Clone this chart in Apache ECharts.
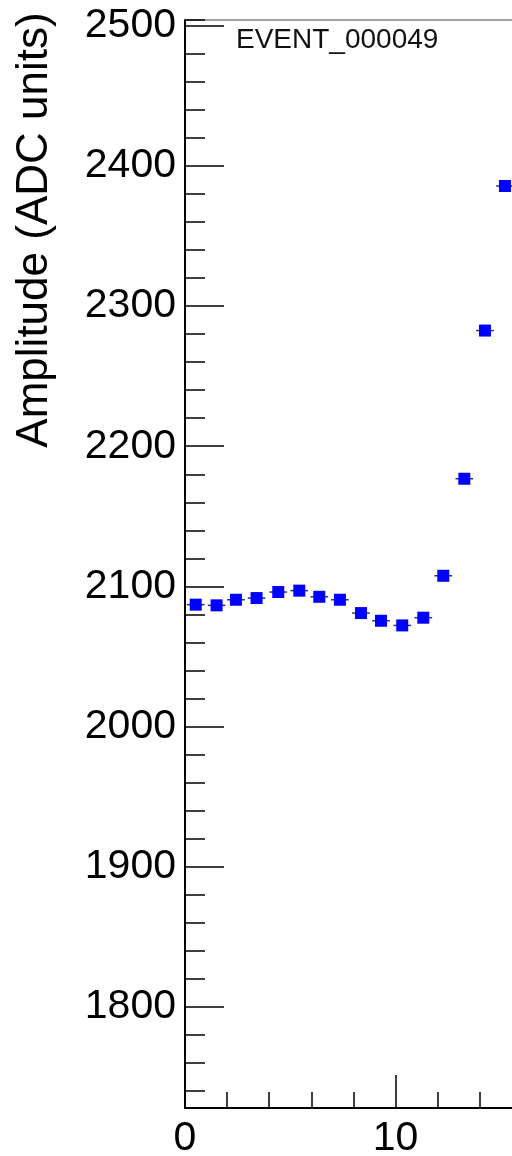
<!DOCTYPE html>
<html>
<head>
<meta charset="utf-8">
<script src="https://cdn.jsdelivr.net/npm/echarts@6/dist/echarts.min.js"></script>
<style>
  html, body { margin: 0; padding: 0; background: #fff; }
  #chart { width: 512px; height: 1156px; }
</style>
</head>
<body>
<div id="chart"></div>
<script>
// sample positions and amplitudes
const sampleX = [0.51, 1.5, 2.42, 3.4, 4.43, 5.43, 6.38, 7.36, 8.36, 9.31, 10.32, 11.32, 12.27, 13.27, 14.25, 15.2];
const amplitude = [2087, 2086.5, 2090.5, 2091.7, 2096, 2097, 2092.6, 2090.5, 2081, 2075.5, 2072.2, 2077.7, 2107.6, 2176.8, 2282.5, 2385.6];
const xErr = 0.42;
const eventName = 'EVENT_000049';
const yTitle = 'Amplitude (ADC units)';
const yRange = [1728, 2504];
const xRange = [0, 20];

const FONT = '"Liberation Sans", Arial, Helvetica, sans-serif';
const points = sampleX.map((x, i) => [x, amplitude[i]]);
const plain = v => String(v);

const chart = echarts.init(document.getElementById('chart'));

const option = {
  animation: false,
  backgroundColor: '#fff',
  title: {
    text: eventName,
    left: 231,
    top: 21,
    textStyle: { fontFamily: FONT, fontWeight: 'normal', fontSize: 28, color: '#111' }
  },
  graphic: [
    {
      type: 'text',
      x: 35, y: 230,
      rotation: Math.PI / 2,
      style: {
        text: yTitle, fontFamily: FONT, fontSize: 44, fill: '#000',
        align: 'center', verticalAlign: 'middle'
      }
    }
  ],
  grid: {
    left: 185, top: 20, bottom: 48, right: -94,
    outerBoundsMode: 'none',
    show: true, borderColor: '#444', borderWidth: 1, backgroundColor: 'transparent'
  },
  xAxis: [
    {
      type: 'value', min: xRange[0], max: xRange[1], interval: 10, position: 'bottom',
      axisLine: { show: true, onZero: false, lineStyle: { color: '#000', width: 2 } },
      axisTick: { show: true, inside: true, length: 33, lineStyle: { color: '#000', width: 1.5 } },
      axisLabel: { fontFamily: FONT, fontSize: 41, color: '#000', margin: 10, formatter: plain },
      splitLine: { show: false }
    },
    {
      type: 'value', min: xRange[0], max: xRange[1], interval: 2, position: 'bottom',
      axisLine: { show: false },
      axisTick: { show: true, inside: true, length: 16, lineStyle: { color: '#000', width: 1.5 } },
      axisLabel: { show: false },
      splitLine: { show: false }
    }
  ],
  yAxis: [
    {
      type: 'value', min: yRange[0], max: yRange[1], splitNumber: 8, position: 'left',
      axisLine: { show: true, onZero: false, lineStyle: { color: '#000', width: 2 } },
      axisTick: { show: true, inside: true, length: 39, lineStyle: { color: '#000', width: 1.5 } },
      axisLabel: {
        fontFamily: FONT, fontSize: 41, color: '#000', margin: 9, formatter: plain,
        showMinLabel: false, showMaxLabel: false
      },
      splitLine: { show: false }
    },
    {
      type: 'value', min: yRange[0], max: yRange[1], splitNumber: 39, position: 'left',
      axisLine: { show: false },
      axisTick: { show: true, inside: true, length: 20, lineStyle: { color: '#000', width: 1.5 } },
      axisLabel: { show: false },
      splitLine: { show: false }
    }
  ],
  series: [
    {
      type: 'custom',
      xAxisIndex: 0, yAxisIndex: 0,
      data: points,
      renderItem: function (params, api) {
        const x = api.value(0), y = api.value(1);
        const a = api.coord([x - xErr, y]);
        const b = api.coord([x + xErr, y]);
        return {
          type: 'line',
          shape: { x1: a[0], y1: a[1], x2: b[0], y2: b[1] },
          style: { stroke: '#2e2e88', lineWidth: 1.5 }
        };
      },
      z: 2
    },
    {
      type: 'scatter',
      xAxisIndex: 0, yAxisIndex: 0,
      data: points,
      symbol: 'rect',
      symbolSize: 12,
      itemStyle: { color: '#0000ff', opacity: 1 },
      z: 3
    }
  ]
};

chart.setOption(option);
</script>
</body>
</html>
